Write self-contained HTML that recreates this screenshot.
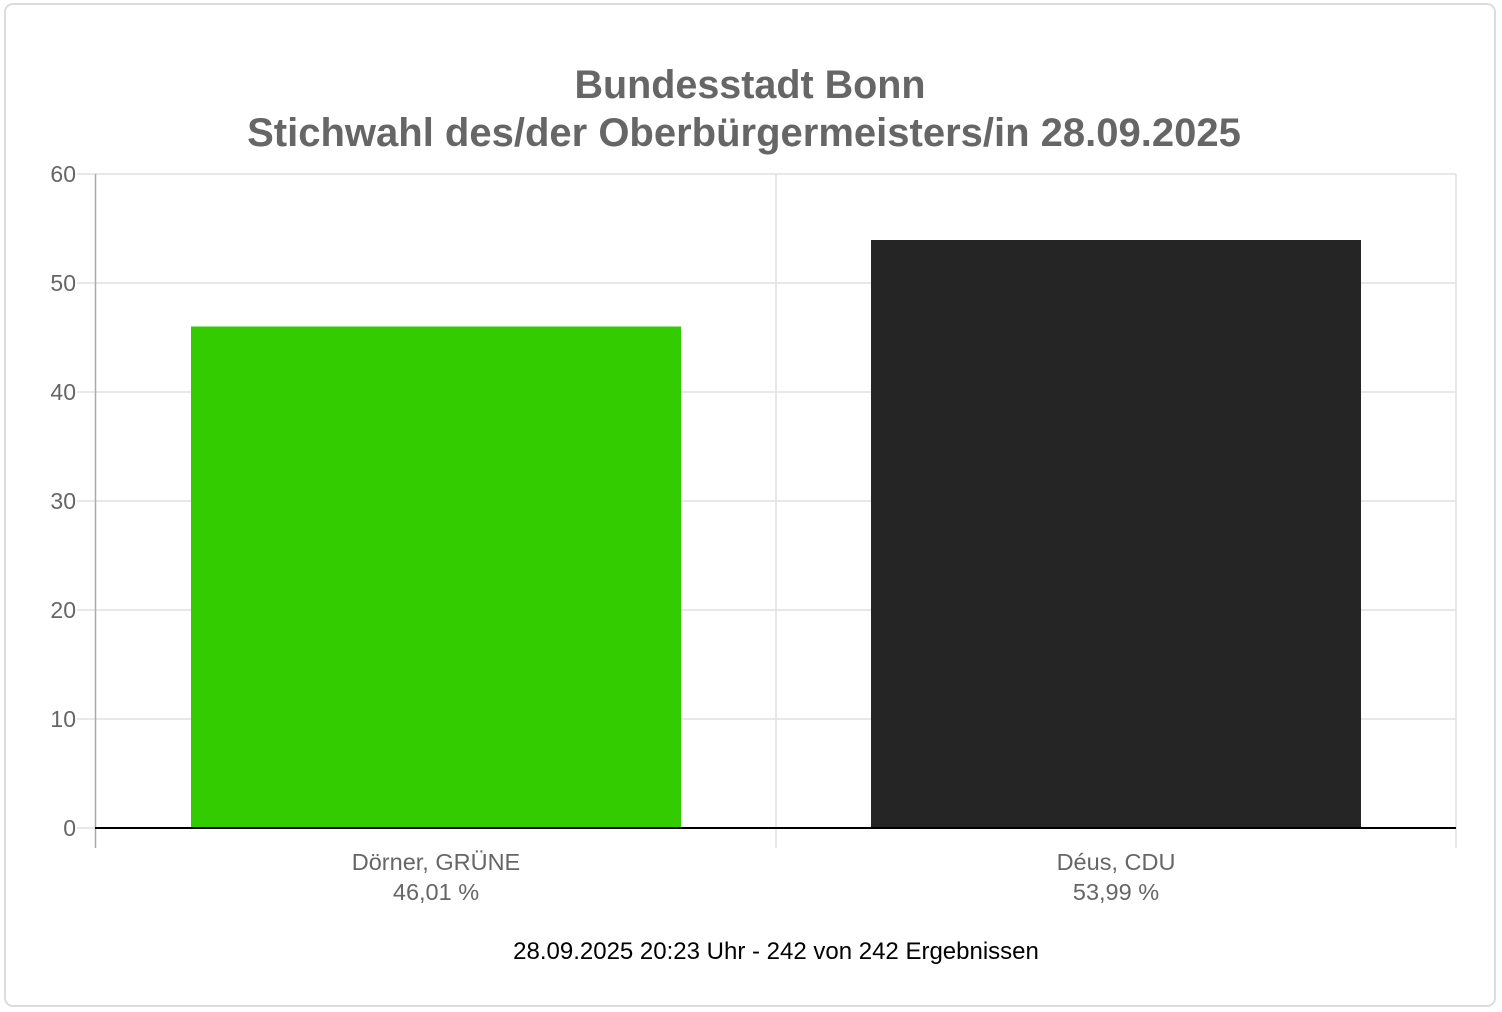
<!DOCTYPE html>
<html><head><meta charset="utf-8"><style>
body{margin:0;background:#fff;}
svg{display:block;font-family:"Liberation Sans",sans-serif;}
</style></head><body>
<svg width="1502" height="1012" viewBox="0 0 1502 1012">
<rect x="5" y="4" width="1490" height="1002" rx="8" fill="#fff" stroke="#dcdcdc" stroke-width="2"/>
<text x="750" y="98" text-anchor="middle" font-size="39.5" font-weight="bold" fill="#666">Bundesstadt Bonn</text>
<text x="744" y="146" text-anchor="middle" font-size="40" font-weight="bold" fill="#666">Stichwahl des/der Oberbürgermeisters/in 28.09.2025</text>
<g stroke="#e0e0e0" stroke-width="1.5">
<line x1="77" y1="174" x2="1456" y2="174"/>
<line x1="77" y1="283" x2="1456" y2="283"/>
<line x1="77" y1="392" x2="1456" y2="392"/>
<line x1="77" y1="501" x2="1456" y2="501"/>
<line x1="77" y1="610" x2="1456" y2="610"/>
<line x1="77" y1="719" x2="1456" y2="719"/>
<line x1="77" y1="828" x2="95" y2="828"/>
<line x1="776" y1="174" x2="776" y2="848"/>
<line x1="1456" y1="174" x2="1456" y2="848"/>
</g>
<line x1="95.5" y1="174" x2="95.5" y2="848" stroke="#aaa" stroke-width="1.5"/>
<rect x="191" y="326.5" width="490" height="501.5" fill="#33cc00"/>
<rect x="871" y="240" width="490" height="588" fill="#252525"/>
<line x1="95" y1="828" x2="1456" y2="828" stroke="#000" stroke-width="2"/>
<g font-size="23" fill="#666" text-anchor="end">
<text x="76" y="182">60</text><text x="76" y="291">50</text><text x="76" y="400">40</text>
<text x="76" y="509">30</text><text x="76" y="618">20</text><text x="76" y="727">10</text><text x="76" y="836">0</text>
</g>
<g font-size="23.5" fill="#666" text-anchor="middle">
<text x="436" y="870">Dörner, GRÜNE</text><text x="436" y="900">46,01 %</text>
<text x="1116" y="870">Déus, CDU</text><text x="1116" y="900">53,99 %</text>
</g>
<text x="776" y="959" text-anchor="middle" font-size="24" fill="#000">28.09.2025 20:23 Uhr - 242 von 242 Ergebnissen</text>
</svg>
</body></html>
